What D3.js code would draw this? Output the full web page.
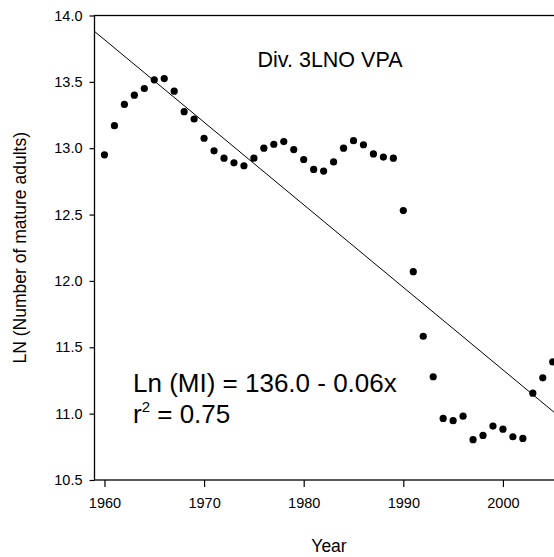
<!DOCTYPE html>
<html>
<head>
<meta charset="utf-8">
<script src="https://cdn.jsdelivr.net/npm/d3@7"></script>
<style>
    body { margin: 0; background: #fff; }
    svg { display: block; font-family: "Liberation Sans", Arial, sans-serif; }
</style>
</head>
<body>
<div id="chart"></div>
<script>
// data
const years = [
    1960, 1961, 1962, 1963, 1964, 1965, 1966, 1967, 1968, 1969,
    1970, 1971, 1972, 1973, 1974, 1975, 1976, 1977, 1978, 1979,
    1980, 1981, 1982, 1983, 1984, 1985, 1986, 1987, 1988, 1989,
    1990, 1991, 1992, 1993, 1994, 1995, 1996, 1997, 1998, 1999,
    2000, 2001, 2002, 2003, 2004, 2005
];
const lnMature = [
    12.95, 13.17, 13.33, 13.40, 13.45, 13.515, 13.525, 13.43, 13.275, 13.22,
    13.075, 12.98, 12.925, 12.89, 12.868, 12.925, 13.00, 13.03, 13.05, 12.99,
    12.915, 12.84, 12.828, 12.897, 13.00, 13.057, 13.026, 12.957, 12.933, 12.925,
    12.53, 12.07, 11.583, 11.278, 10.964, 10.947, 10.981, 10.804, 10.836, 10.906,
    10.883, 10.826, 10.813, 11.154, 11.27, 11.39
];
const yTicks = [10.5, 11.0, 11.5, 12.0, 12.5, 13.0, 13.5, 14.0];
const xTicks = [1960, 1970, 1980, 1990, 2000];

// regression line as drawn
const fitIntercept = 135.73;
const fitSlope = -0.0622;

const title = "Div. 3LNO VPA";
const eqLine1 = "Ln (MI) = 136.0 - 0.06x";
const eqR2 = "0.75";

const width = 554, height = 557;
const plot = { left: 94.5, top: 15.5, right: 562.7, bottom: 480 };

const svg = d3.select("#chart").append("svg")
    .attr("width", width)
    .attr("height", height);

const x = d3.scaleLinear().domain([1959, 2006]).range([plot.left, plot.right]);
const y = d3.scaleLinear().domain([10.5, 14.0]).range([plot.bottom, plot.top]);

svg.append("defs").append("clipPath")
    .attr("id", "clip")
    .append("rect")
    .attr("x", plot.left)
    .attr("y", plot.top)
    .attr("width", plot.right - plot.left)
    .attr("height", plot.bottom - plot.top);

// frame
svg.append("rect")
    .attr("x", plot.left)
    .attr("y", plot.top)
    .attr("width", plot.right - plot.left)
    .attr("height", plot.bottom - plot.top)
    .attr("fill", "none")
    .attr("stroke", "#000")
    .attr("stroke-width", 1.3);

const yAxis = svg.append("g")
    .attr("transform", `translate(${plot.left},0)`)
    .call(d3.axisLeft(y).tickValues(yTicks).tickFormat(d3.format(".1f")).tickSize(5).tickPadding(7).tickSizeOuter(0));

const xAxis = svg.append("g")
    .attr("transform", `translate(0,${plot.bottom})`)
    .call(d3.axisBottom(x).tickValues(xTicks).tickFormat(d3.format("d")).tickSize(7).tickPadding(11).tickSizeOuter(0));

for(const ax of [xAxis, yAxis])
{
    ax.select(".domain").remove();
    ax.attr("font-family", null).attr("font-size", null);
    ax.selectAll("text").attr("font-size", 14.5).attr("fill", "#000");
    ax.selectAll("line").attr("stroke", "#000").attr("stroke-width", 1.2);
}

// fitted line
const g = svg.append("g").attr("clip-path", "url(#clip)");

g.append("line")
    .attr("x1", x(1959))
    .attr("y1", y(fitIntercept + fitSlope * 1959))
    .attr("x2", x(2006))
    .attr("y2", y(fitIntercept + fitSlope * 2006))
    .attr("stroke", "#000")
    .attr("stroke-width", 1);

g.selectAll("circle")
    .data(years)
    .join("circle")
    .attr("cx", d => x(d))
    .attr("cy", (d, i) => y(lnMature[i]))
    .attr("r", 3.6)
    .attr("fill", "#000");

// texts
svg.append("text")
    .attr("x", 330)
    .attr("y", 67)
    .attr("text-anchor", "middle")
    .attr("font-size", 21.5)
    .text(title);

svg.append("text")
    .attr("x", 133)
    .attr("y", 392)
    .attr("font-size", 26)
    .text(eqLine1);

const r2 = svg.append("text")
    .attr("x", 133)
    .attr("y", 423)
    .attr("font-size", 26);
r2.append("tspan").text("r");
r2.append("tspan").attr("font-size", 15).attr("dy", -11).text("2");
r2.append("tspan").attr("dy", 11).text(" = " + eqR2);

svg.append("text")
    .attr("x", 329)
    .attr("y", 552)
    .attr("text-anchor", "middle")
    .attr("font-size", 17.5)
    .text("Year");

svg.append("text")
    .attr("transform", `translate(26,${(plot.top + plot.bottom) / 2}) rotate(-90)`)
    .attr("text-anchor", "middle")
    .attr("font-size", 17.5)
    .text("LN (Number of mature adults)");
</script>
</body>
</html>
